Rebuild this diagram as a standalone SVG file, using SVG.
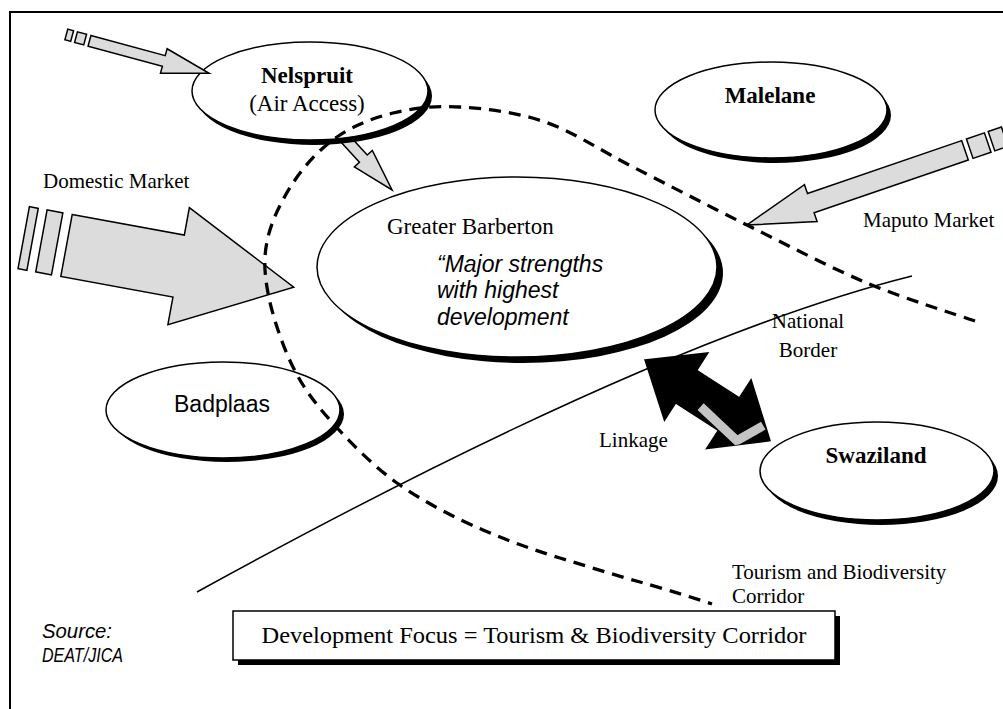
<svg xmlns="http://www.w3.org/2000/svg" width="1003" height="709" viewBox="0 0 1003 709">
<style>
.serif{font-family:"Liberation Serif","Times New Roman",serif;fill:#000}
.sans{font-family:"Liberation Sans",Arial,sans-serif;fill:#000}
.node{fill:#fff;stroke:#000;stroke-width:1.5}
.shadow{fill:#000}
.garrow{fill:#dcdcdc;stroke:#000;stroke-width:1.5;stroke-linejoin:miter}
.lbl{font-size:21px}
.nt{font-size:23px}
</style>
<defs>
<clipPath id="linkClip"><polygon points="0,0 49,-40 49,-19.4 99.8,-19.4 99.8,-41 148.8,0 99.8,41 99.8,19.4 49,19.4 49,40"/></clipPath>
</defs>
<rect x="10" y="12" width="1010" height="710" fill="#fff" stroke="#000" stroke-width="2"/>

<g id="connectors">
<g id="arrow-nelspruit-barberton" transform="translate(333.6,126.2) rotate(47.5)">
<polygon class="garrow" points="0,-5.3 44,-5.3 44,-12.2 86.5,0 44,12.2 44,5.3 0,5.3"/>
</g>
</g>

<g id="node-nelspruit">
<ellipse class="shadow" cx="314" cy="96" rx="118" ry="49"/>
<ellipse class="node" cx="310" cy="91" rx="118" ry="49"/>
<text class="serif nt" x="307" y="83" text-anchor="middle" font-weight="bold">Nelspruit</text>
<text class="serif nt" x="307" y="111" text-anchor="middle">(Air Access)</text>
</g>
<g id="node-malelane">
<ellipse class="shadow" cx="775" cy="115" rx="116" ry="48"/>
<ellipse class="node" cx="771" cy="110" rx="116" ry="48"/>
<text class="serif nt" x="770" y="103" text-anchor="middle" font-weight="bold">Malelane</text>
</g>
<g id="node-barberton">
<ellipse class="shadow" cx="523" cy="273" rx="200" ry="90"/>
<ellipse class="node" cx="517" cy="267" rx="200" ry="90"/>
<text class="serif nt" x="387" y="234">Greater Barberton</text>
<text class="sans" font-size="23" font-style="italic"><tspan x="437" y="272">“Major strengths</tspan><tspan x="437" y="298">with highest</tspan><tspan x="437" y="325">development</tspan></text>
</g>
<g id="node-badplaas">
<ellipse class="shadow" cx="227" cy="414" rx="117" ry="48"/>
<ellipse class="node" cx="223" cy="410" rx="117" ry="48"/>
<text class="sans nt" x="222" y="412" text-anchor="middle">Badplaas</text>
</g>
<g id="node-swaziland">
<ellipse class="shadow" cx="881" cy="476" rx="117" ry="49"/>
<ellipse class="node" cx="877" cy="471" rx="117" ry="49"/>
<text class="serif nt" x="876" y="463" text-anchor="middle" font-weight="bold">Swaziland</text>
</g>

<g id="connectors2">
<g id="arrow-nelspruit-in" transform="translate(89.5,40.8) rotate(15.2)">
<rect class="garrow" x="-24" y="-5.5" width="6" height="11"/>
<rect class="garrow" x="-14" y="-5.5" width="9.5" height="11"/>
<polygon class="garrow" points="0,-5.5 77,-5.5 77,-12.7 124,0 77,12.7 77,5.5 0,5.5"/>
</g>
<g id="arrow-domestic" transform="translate(66.5,245.5) rotate(10.4)">
<rect class="garrow" x="-43.5" y="-31.5" width="9" height="63"/>
<rect class="garrow" x="-25.5" y="-31.5" width="16" height="63"/>
<polygon class="garrow" points="0,-31.5 114,-31.5 114,-59.5 231,0 114,59.5 114,31.5 0,31.5"/>
</g>
<g id="arrow-maputo" transform="translate(965,150.3) rotate(161.1)">
<rect class="garrow" x="-42" y="-10.2" width="14" height="20.4"/>
<rect class="garrow" x="-24" y="-10.2" width="19" height="20.4"/>
<polygon class="garrow" points="0,-10.2 163,-10.2 163,-19.5 230.7,0 163,19.5 163,10.2 0,10.2"/>
</g>
<path id="national-border" d="M197,592 Q654.7,340.3 912,276" fill="none" stroke="#000" stroke-width="1.5"/>
<g id="arrow-linkage" transform="translate(645,360) rotate(32.85)">
<polygon points="0,0 49,-40 49,-19.4 99.8,-19.4 99.8,-41 148.8,0 99.8,41 99.8,19.4 49,19.4 49,40" fill="#000" stroke="#000" stroke-width="1.5" stroke-linejoin="miter"/>
<polyline points="72,9 121,18 135,-9" fill="none" stroke="#c4c4c4" stroke-width="9" stroke-linejoin="miter" clip-path="url(#linkClip)"/>
</g>
<path id="corridor" d="M975,321 C957,314.7 905,299 867,283 C829,267 786,244.3 747,225 C708,205.7 666.7,184.2 633,167 C599.3,149.8 573.8,132 545,122 C516.2,112 485.3,108.5 460,107 C434.7,105.5 413.5,108 393,113 C372.5,118 353.3,125.8 337,137 C320.7,148.2 306.5,163.3 295,180 C283.5,196.7 272.5,218.2 268,237 C263.5,255.8 264,271.7 268,293 C272,314.3 281.7,343.8 292,365 C302.3,386.2 312.5,400.3 330,420 C347.5,439.7 371.5,464.7 397,483 C422.5,501.3 455.8,518.3 483,530 C510.2,541.7 533.8,550 560,558 C586.2,566 614.7,575 640,582 C665.3,589 700,600 712,604" fill="none" stroke="#000" stroke-width="3.3" stroke-dasharray="12 8"/>
</g>

<g id="labels">
<text class="serif lbl" x="43" y="188">Domestic Market</text>
<text class="serif lbl" x="863" y="227">Maputo Market</text>
<text class="serif lbl" x="808" y="328" text-anchor="middle">National</text>
<text class="serif lbl" x="808" y="357" text-anchor="middle">Border</text>
<text class="serif lbl" x="599" y="447">Linkage</text>
<text class="serif lbl" x="732" y="579">Tourism and Biodiversity</text>
<text class="serif lbl" x="732" y="603">Corridor</text>
<text class="sans" font-size="21" font-style="italic" x="42" y="638" textLength="70" lengthAdjust="spacingAndGlyphs">Source:</text>
<text class="sans" font-size="21" font-style="italic" x="42" y="662" textLength="81" lengthAdjust="spacingAndGlyphs">DEAT/JICA</text>
</g>

<g id="node-focus">
<rect x="238" y="616" width="602" height="49" fill="#000"/>
<rect x="233" y="611" width="602" height="49" fill="#fff" stroke="#000" stroke-width="1.5"/>
<text class="serif" font-size="23" x="534" y="643" text-anchor="middle" textLength="545" lengthAdjust="spacingAndGlyphs">Development Focus = Tourism &amp; Biodiversity Corridor</text>
</g>
</svg>
